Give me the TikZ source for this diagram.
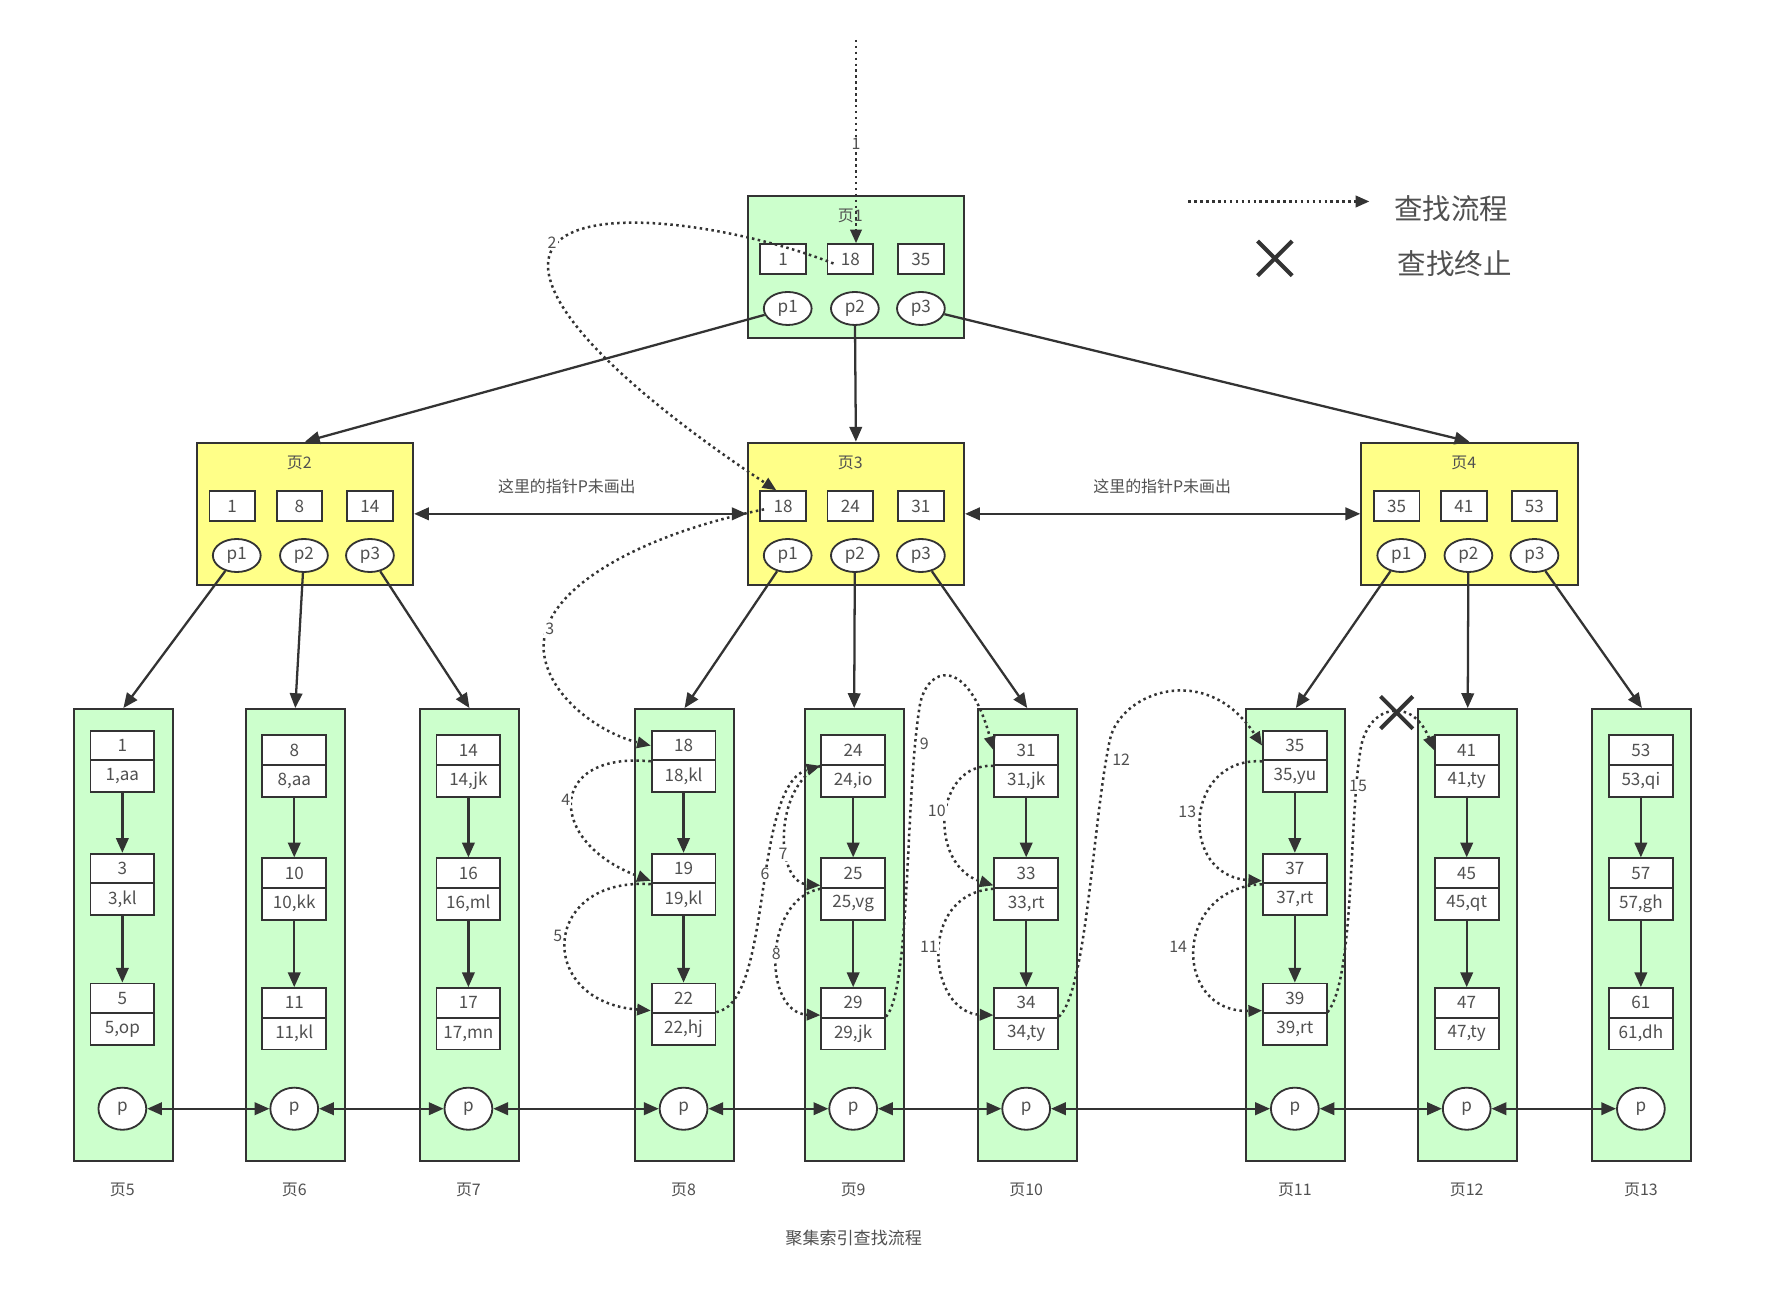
\documentclass[tikz,border=0pt]{standalone}
\usepackage{fontspec}
\setmainfont{Noto Sans CJK SC}
\usetikzlibrary{arrows.meta,calc,shapes.geometric}
\definecolor{pgreen}{HTML}{CCFFCC}
\definecolor{pyellow}{HTML}{FFFF88}
\definecolor{ln}{HTML}{333333}
\definecolor{tx}{HTML}{505050}
\newcommand\fsz[1]{\fontsize{#1}{#1}\selectfont}
\tikzset{
  ipg/.style={draw=ln,line width=1.8pt,minimum width=190pt,minimum height=125pt,inner sep=0pt,anchor=north west},
  lpg/.style={draw=ln,line width=1.8pt,fill=pgreen,minimum width=87pt,minimum height=397pt,inner sep=0pt,anchor=north west},
  keybox/.style={draw=ln,line width=1.6pt,fill=white,minimum width=40pt,minimum height=26pt,inner sep=0pt,text=tx,font=\fsz{15}},
  ptr/.style={draw=ln,line width=1.6pt,fill=white,ellipse,minimum width=42pt,minimum height=29pt,inner sep=0pt,text=tx,font=\fsz{15}},
  kb/.style={draw=ln,line width=1.6pt,fill=white,minimum width=56pt,minimum height=26pt,inner sep=0pt,text=tx,font=\fsz{15}},
  db/.style={draw=ln,line width=1.6pt,fill=white,minimum width=56pt,minimum height=28pt,inner sep=0pt,text=tx,font=\fsz{15}},
  lp/.style={draw=ln,line width=1.6pt,fill=white,ellipse,minimum width=42pt,minimum height=37pt,inner sep=0pt,text=tx,font=\fsz{15}},
  ttl/.style={text=tx,font=\fsz{14},inner sep=0pt},
  lbl/.style={text=tx,font=\fsz{14},inner sep=0pt},
  num/.style={text=tx,font=\fsz{14},inner sep=1pt,fill=white},
  tree/.style={draw=ln,line width=2pt,-{Triangle[length=13pt,width=11pt]}},
  rec/.style={draw=ln,line width=2pt,-{Triangle[length=13pt,width=11pt]}},
  dbl/.style={draw=ln,line width=2pt,{Triangle[length=13pt,width=11pt]}-{Triangle[length=13pt,width=11pt]}},
  flow/.style={draw=ln,line width=2.2pt,dash pattern=on 2.2pt off 3pt,-{Triangle[length=12pt,width=10pt]}},
  xl/.style={draw=ln,line width=3.5pt},
}
\newcommand\ipage[8]{%
  \node[ipg,fill=#4] (#1) at (#2,#3) {};
  \node[ttl] (#1t) at (#2+91,#3+19) {#5};
  \node[keybox] (#1k1) at (#2+32,#3+56.5) {#6};
  \node[keybox] (#1k2) at (#2+91,#3+56.5) {#7};
  \node[keybox] (#1k3) at (#2+153,#3+56.5) {#8};
  \node[ptr] (#1p1) at (#2+36,#3+100) {p1};
  \node[ptr] (#1p2) at (#2+95,#3+100) {p2};
  \node[ptr] (#1p3) at (#2+153,#3+100) {p3};
}
\newcommand\lpage[9]{%
  \node[lpg] (L#1) at (#2,622) {};
  \node[kb] (L#1k1) at (#2+43.5,655+#3) {#4};
  \node[db] (L#1d1) at (#2+43.5,682+#3) {#5};
  \node[kb] (L#1k2) at (#2+43.5,763+#3) {#6};
  \node[db] (L#1d2) at (#2+43.5,790+#3) {#7};
  \node[kb] (L#1k3) at (#2+43.5,877+#3) {#8};
  \node[db] (L#1d3) at (#2+43.5,904+#3) {#9};
  \draw[rec] (L#1d1) -- (L#1k2);
  \draw[rec] (L#1d2) -- (L#1k3);
  \node[lp] (L#1p) at (#2+43.5,974) {p};
  \node[lbl] (L#1n) at (#2+43.5,1045) {页#1};
}
\begin{document}
\begin{tikzpicture}[x=1pt,y=-1pt]
\fill[white] (0,0) rectangle (1569,1135);
\useasboundingbox (0,0) rectangle (1569,1135);
% upper pages
\ipage{P1}{656}{171}{pgreen}{页1}{1}{18}{35}
\ipage{P2}{172}{388}{pyellow}{页2}{1}{8}{14}
\ipage{P3}{656}{388}{pyellow}{页3}{18}{24}{31}
\ipage{P4}{1195}{388}{pyellow}{页4}{35}{41}{53}
% leaf pages
\lpage{5}{64}{0}{1}{1,aa}{3}{3,kl}{5}{5,op}
\lpage{6}{215}{4}{8}{8,aa}{10}{10,kk}{11}{11,kl}
\lpage{7}{368}{4}{14}{14,jk}{16}{16,ml}{17}{17,mn}
\lpage{8}{557}{0}{18}{18,kl}{19}{19,kl}{22}{22,hj}
\lpage{9}{706}{4}{24}{24,io}{25}{25,vg}{29}{29,jk}
\lpage{10}{858}{4}{31}{31,jk}{33}{33,rt}{34}{34,ty}
\lpage{11}{1094}{0}{35}{35,yu}{37}{37,rt}{39}{39,rt}
\lpage{12}{1245}{4}{41}{41,ty}{45}{45,qt}{47}{47,ty}
\lpage{13}{1398}{4}{53}{53,qi}{57}{57,gh}{61}{61,dh}
% tree edges
\draw[tree] (P1p1) -- (P2.north);
\draw[tree] (P1p2) -- (P3.north);
\draw[tree] (P1p3) -- (P4.north);
\draw[tree] (P2p1) -- (L5.north);
\draw[tree] (P2p2) -- (L6.north);
\draw[tree] (P2p3) -- (L7.north);
\draw[tree] (P3p1) -- (L8.north);
\draw[tree] (P3p2) -- (L9.north);
\draw[tree] (P3p3) -- (L10.north);
\draw[tree] (P4p1) -- (L11.north);
\draw[tree] (P4p2) -- (L12.north);
\draw[tree] (P4p3) -- (L13.north);
% sibling links
\draw[dbl] (P2.east) -- (P3.west);
\draw[dbl] (P3.east) -- (P4.west);
\node[lbl,font=\fsz{14}] (nt1) at (498,427) {这里的指针P未画出};
\node[lbl,font=\fsz{14}] (nt2) at (1021,427) {这里的指针P未画出};
\draw[dbl] (L5p) -- (L6p);
\draw[dbl] (L6p) -- (L7p);
\draw[dbl] (L7p) -- (L8p);
\draw[dbl] (L8p) -- (L9p);
\draw[dbl] (L9p) -- (L10p);
\draw[dbl] (L10p) -- (L11p);
\draw[dbl] (L11p) -- (L12p);
\draw[dbl] (L12p) -- (L13p);
% search flow
\coordinate (s1) at (752,35);
\draw[flow] (s1) -- (s1 |- P1k2.north);
\node[num] (n1) at (752,126) {1};
\draw[flow] ($(P1k2.west)+(6,4)$) .. controls (640,195) and (470,170) .. (482,240)
   .. controls (492,300) and (620,390) .. ($(P3k1.north)+(-6,0)$);
\node[num] (n2) at (485,213) {2};
\draw[flow] ($(P3k1.west)+(4,3)$) .. controls (560,470) and (470,520) .. (478,575)
   .. controls (484,615) and (530,645) .. (L8k1.west);
\node[num] (n3) at (483,552) {3};
\draw[flow] (L8k1.south west) .. controls (480,660) and (480,740) .. ($(L8k2.south west)+(0,-3)$);
\node[num] (n4) at (497,703) {4};
\draw[flow] (L8k2.south west) .. controls (475,770) and (470,880) .. ($(L8k3.south west)+(0,-3)$);
\node[num] (n5) at (490,822) {5};
\draw[flow] (L8d3.north east) .. controls (680,880) and (660,690) .. (L9k1.south west);
\node[num] (n6) at (672,768) {6};
\draw[flow] (L9k1.south west) .. controls (680,690) and (680,775) .. ($(L9k2.south west)+(0,-3)$);
\node[num] (n7) at (688,750) {7};
\draw[flow] (L9k2.south west) .. controls (670,790) and (670,890) .. ($(L9k3.south west)+(0,-3)$);
\node[num] (n8) at (682,838) {8};
\draw[flow] (L9d3.north east) .. controls (800,870) and (795,700) .. (808,620)
   .. controls (814,585) and (850,575) .. (L10k1.west);
\node[num] (n9) at (812,653) {9};
\draw[flow] (L10k1.south west) .. controls (820,670) and (815,760) .. ($(L10k2.south west)+(0,-3)$);
\node[num] (n10) at (823,712) {10};
\draw[flow] (L10k2.south west) .. controls (805,785) and (815,890) .. ($(L10k3.south west)+(0,-3)$);
\node[num] (n11) at (816,832) {11};
\draw[flow] (L10d3.north east) .. controls (955,870) and (960,720) .. (975,650)
   .. controls (984,608) and (1060,580) .. (L11k1.west);
\node[num] (n12) at (985,667) {12};
\draw[flow] (L11k1.south west) .. controls (1040,665) and (1035,770) .. ($(L11k2.south west)+(0,-3)$);
\node[num] (n13) at (1043,713) {13};
\draw[flow] (L11k2.south west) .. controls (1030,780) and (1030,890) .. ($(L11k3.south west)+(0,-3)$);
\node[num] (n14) at (1035,832) {14};
\draw[flow] (L11d3.north east) .. controls (1190,860) and (1185,720) .. (1195,660)
   .. controls (1200,620) and (1240,610) .. (L12k1.west);
\node[num] (n15) at (1193,690) {15};
\node[minimum size=28pt,inner sep=0pt] (x2) at (1227,626) {};
\draw[xl] (x2.north west) -- (x2.south east) (x2.south west) -- (x2.north east);
% legend
\coordinate (lgA) at (1044,177);
\coordinate (lgB) at (1203,177);
\draw[flow] (lgA) -- (lgB);
\node[lbl,font=\fsz{25}] (lg1) at (1275,183) {查找流程};
\node[minimum size=30pt,inner sep=0pt] (x1) at (1120,227) {};
\draw[xl] (x1.north west) -- (x1.south east) (x1.south west) -- (x1.north east);
\node[lbl,font=\fsz{25}] (lg2) at (1278,232) {查找终止};
% caption
\node[lbl,font=\fsz{15}] (cap) at (750,1088) {聚集索引查找流程};
\end{tikzpicture}
\end{document}
